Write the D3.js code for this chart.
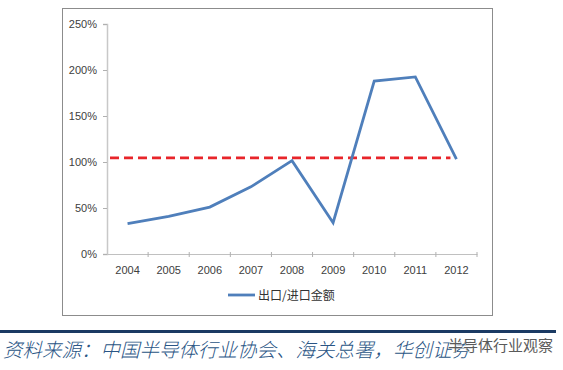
<!DOCTYPE html>
<html>
<head>
<meta charset="utf-8">
<script src="https://cdn.jsdelivr.net/npm/d3@7"></script>
<style>
  body { margin: 0; background: #fff; }
  svg { display: block; }
</style>
</head>
<body>
<script>
// chart data
const years = ['2004', '2005', '2006', '2007', '2008', '2009', '2010', '2011', '2012'];
const ratio = [0.33, 0.41, 0.51, 0.73, 1.015, 0.34, 1.88, 1.925, 1.03];
const refValue = 1.045;
const yTicks = [0, 0.5, 1, 1.5, 2, 2.5];
const legendLabel = '出口/进口金额';
const sourceText = '资料来源：中国半导体行业协会、海关总署，华创证券';
const watermark = '半导体行业观察';

const width = 563, height = 370;
const svg = d3.select('body').append('svg')
  .attr('width', width)
  .attr('height', height);

// outer frame of the excel chart
svg.append('rect')
  .attr('x', 62.5).attr('y', 8.5)
  .attr('width', 430).attr('height', 307)
  .attr('fill', '#fff')
  .attr('stroke', '#8c8c8c')
  .attr('stroke-width', 1);

const x = d3.scaleBand().domain(years).range([107, 477]);
const y = d3.scaleLinear().domain([0, 2.5]).range([254, 24]);

const font = '"Liberation Sans", Arial, sans-serif';

// y axis
const yAxis = svg.append('g')
  .attr('transform', 'translate(107,0)')
  .call(d3.axisLeft(y).tickValues(yTicks).tickFormat(d3.format('.0%')).tickSize(4).tickPadding(6));
yAxis.select('.domain').attr('stroke', '#c8c8c8').attr('stroke-width', 1.5);
yAxis.selectAll('.tick line').attr('stroke', '#b0b0b0');
yAxis.selectAll('.tick text')
  .attr('font-family', font).attr('font-size', 11).attr('fill', '#404040');

// x axis, ticks between categories
const xAxis = svg.append('g')
  .attr('transform', 'translate(0,254)')
  .call(d3.axisBottom(x).tickSize(0).tickPadding(12));
xAxis.select('.domain').attr('stroke', '#c0c0c0');
xAxis.selectAll('.tick text')
  .attr('font-family', font).attr('font-size', 11).attr('fill', '#404040');
const bounds = years.map(d => x(d)).concat([x.range()[1]]).slice(1);
xAxis.selectAll('.sep')
  .data(bounds)
  .enter().append('line')
  .attr('x1', d => d).attr('x2', d => d)
  .attr('y1', -2).attr('y2', 3)
  .attr('stroke', '#b0b0b0');

const cx = d => x(d) + x.bandwidth() / 2;

// reference dashed line
svg.append('line')
  .attr('x1', x.range()[0] + 3)
  .attr('x2', cx(years[years.length - 1]) - 6)
  .attr('y1', y(refValue)).attr('y2', y(refValue))
  .attr('stroke', '#e8252a')
  .attr('stroke-width', 2.6)
  .attr('stroke-dasharray', '9,5');

// main series
const line = d3.line()
  .x((d, i) => cx(years[i]))
  .y(d => y(d));
svg.append('path')
  .datum(ratio)
  .attr('d', line)
  .attr('fill', 'none')
  .attr('stroke', '#4f7fbb')
  .attr('stroke-width', 2.8)
  .attr('stroke-linejoin', 'miter');

// legend
svg.append('line')
  .attr('x1', 228).attr('x2', 255)
  .attr('y1', 295).attr('y2', 295)
  .attr('stroke', '#4f7fbb').attr('stroke-width', 2.8);
svg.append('text')
  .attr('x', 258).attr('y', 299.5)
  .attr('font-family', '"Noto Sans CJK SC", sans-serif')
  .attr('font-size', 12)
  .attr('fill', '#333')
  .text(legendLabel);

// footer rule and source
svg.append('rect')
  .attr('x', 0).attr('y', 330)
  .attr('width', 556).attr('height', 3)
  .attr('fill', '#1b3a63');
svg.append('text')
  .attr('x', 3).attr('y', 357)
  .attr('font-family', '"Noto Sans CJK SC", sans-serif')
  .attr('font-size', 19.5)
  .attr('font-weight', 300)
  .attr('font-style', 'italic')
  .attr('fill', '#2a5585')
  .text(sourceText);

// watermark
svg.append('text')
  .attr('x', 448).attr('y', 351)
  .attr('font-family', '"Noto Sans CJK SC", sans-serif')
  .attr('font-size', 15)
  .attr('fill', '#5a5a5a')
  .attr('stroke', '#fff').attr('stroke-width', 0.8)
  .attr('paint-order', 'stroke')
  .text(watermark);
</script>
</body>
</html>
